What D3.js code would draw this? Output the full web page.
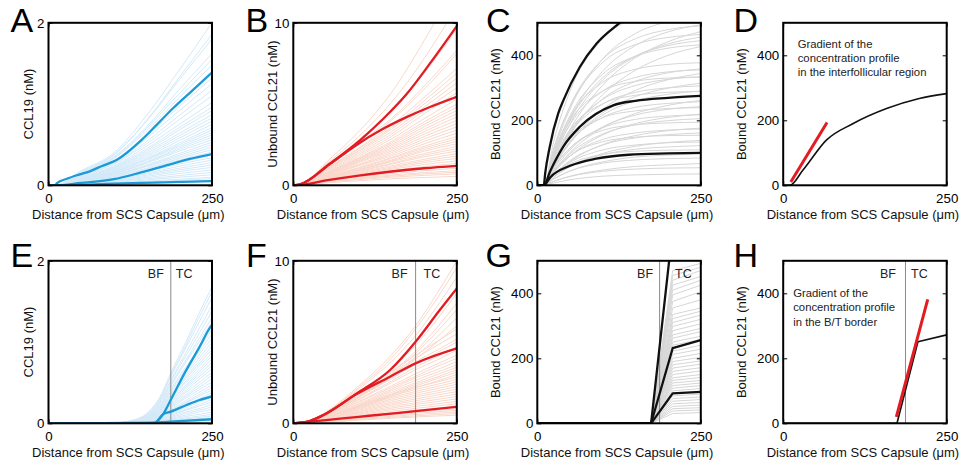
<!DOCTYPE html>
<html><head><meta charset="utf-8">
<script src="https://cdn.jsdelivr.net/npm/d3@7"></script>
<style>
html,body{margin:0;padding:0;background:#fff;}
svg{display:block;}
</style></head><body>
<svg id="chart" width="961" height="464"></svg>
<script>
// ================= DATA =================
const xDomain = [0, 250];
const xTickValues = [0, 250];
const xTitle = "Distance from SCS Capsule (\u03bcm)";
const panelLetters = ["A", "B", "C", "D", "E", "F", "G", "H"];
const yTitles = ["CCL19 (nM)", "Unbound CCL21 (nM)", "Bound CCL21 (nM)", "Bound CCL21 (nM)",
                 "CCL19 (nM)", "Unbound CCL21 (nM)", "Bound CCL21 (nM)", "Bound CCL21 (nM)"];
const yMaxes = [2, 10, 500, 500, 2, 10, 500, 500];
const yTicksCCL19 = [0, 2];
const yTicksUnbound = [0, 10];
const yTicksBound = [0, 200, 400];
const regionLabels = ["BF", "TC"];
const borderX = 187;
const noteD = ["Gradient of the", "concentration profile", "in the interfollicular region"];
const noteH = ["Gradient of the", "concentration profile", "in the B/T border"];

// ---- Panel A (CCL19, top row) ----
const aGridX = [0, 10, 50, 100, 150, 200, 250];
const aLight = [
 [0,0,0.18,0.40,0.86,1.42,2.00],[0,0,0.17,0.38,0.80,1.33,1.86],[0,0,0.16,0.37,0.79,1.30,1.80],
 [0,0,0.15,0.35,0.72,1.18,1.62],[0,0,0.15,0.34,0.70,1.13,1.55],[0,0,0.14,0.33,0.67,1.08,1.48],
 [0,0,0.13,0.30,0.61,0.97,1.32],[0,0,0.12,0.28,0.58,0.92,1.25],[0,0,0.12,0.27,0.54,0.86,1.17],
 [0,0,0.11,0.26,0.51,0.81,1.10],[0,0,0.10,0.24,0.48,0.75,1.02],[0,0,0.10,0.23,0.45,0.71,0.96],
 [0,0,0.09,0.22,0.43,0.68,0.92],[0,0,0.09,0.21,0.41,0.64,0.87],[0,0,0.085,0.20,0.39,0.61,0.83],
 [0,0,0.08,0.19,0.37,0.58,0.79],[0,0,0.08,0.18,0.35,0.55,0.75],[0,0,0.075,0.17,0.33,0.52,0.71],
 [0,0,0.07,0.165,0.32,0.50,0.68],[0,0,0.07,0.16,0.31,0.48,0.65],[0,0,0.065,0.15,0.29,0.46,0.62],
 [0,0,0.06,0.145,0.28,0.44,0.59],[0,0,0.06,0.14,0.27,0.42,0.56],[0,0,0.055,0.13,0.25,0.39,0.53],
 [0,0,0.05,0.125,0.24,0.37,0.50],[0,0,0.05,0.12,0.23,0.35,0.47],[0,0,0.045,0.11,0.21,0.33,0.44],
 [0,0,0.045,0.105,0.20,0.31,0.41],[0,0,0.04,0.095,0.18,0.28,0.37],[0,0,0.035,0.09,0.17,0.26,0.34],
 [0,0,0.035,0.08,0.15,0.235,0.31],[0,0,0.03,0.075,0.14,0.21,0.28],[0,0,0.03,0.065,0.125,0.19,0.25],
 [0,0,0.025,0.06,0.11,0.17,0.22],[0,0,0.02,0.05,0.095,0.145,0.19],[0,0,0.02,0.045,0.08,0.12,0.16],
 [0,0,0.015,0.035,0.065,0.10,0.13],[0,0,0.012,0.03,0.05,0.075,0.10],[0,0,0.01,0.022,0.04,0.06,0.08],
 [0,0,0.006,0.015,0.025,0.038,0.05]
];
const aHighX = [0, 10, 13, 28, 48, 64, 81, 104, 142, 165, 190, 219, 250];
const aHighY = [0, 0, 0.028, 0.08, 0.135, 0.175, 0.235, 0.31, 0.555, 0.74, 0.945, 1.16, 1.39];
const aMidX = [0, 10, 50, 100, 140, 180, 216, 250];
const aMidY = [0, 0, 0.03, 0.075, 0.155, 0.245, 0.325, 0.385];
const aLowX = [0, 10, 100, 175, 250];
const aLowY = [0, 0, 0.02, 0.037, 0.052];

// ---- Panel B (unbound CCL21, top row) ----
const bGridX = [0, 10, 50, 100, 150, 200, 250];
const bLight = [
 [0,0,1.4,3.3,5.7,8.9,12.5],[0,0,1.3,3.0,5.1,7.8,11.0],[0,0,1.2,2.8,4.6,6.9,9.6],[0,0,1.1,2.6,4.1,6.1,8.3],
 [0,0,1.1,2.5,4.0,5.9,8.1],[0,0,1.0,2.3,3.7,5.4,7.2],[0,0,1.0,2.25,3.55,5.2,6.9],[0,0,0.95,2.15,3.45,5.0,6.6],
 [0,0,0.95,2.1,3.3,4.8,6.3],[0,0,0.9,2.0,3.15,4.6,6.0],[0,0,0.85,1.9,3.0,4.4,5.7],[0,0,0.8,1.8,2.85,4.1,5.3],
 [0,0,0.75,1.7,2.7,3.9,5.0],[0,0,0.75,1.65,2.6,3.75,4.8],[0,0,0.7,1.6,2.5,3.6,4.6],[0,0,0.7,1.55,2.4,3.45,4.4],
 [0,0,0.65,1.5,2.3,3.3,4.2],[0,0,0.65,1.45,2.2,3.15,4.0],[0,0,0.6,1.4,2.1,3.0,3.8],[0,0,0.6,1.3,2.0,2.85,3.6],
 [0,0,0.55,1.25,1.9,2.7,3.4],[0,0,0.55,1.2,1.8,2.55,3.2],[0,0,0.5,1.1,1.7,2.4,3.0],[0,0,0.5,1.05,1.65,2.3,2.85],
 [0,0,0.5,1.0,1.55,2.2,2.7],[0,0,0.45,0.95,1.5,2.1,2.55],[0,0,0.45,0.95,1.45,1.95,2.4],[0,0,0.42,0.9,1.35,1.85,2.25],
 [0,0,0.4,0.85,1.3,1.75,2.1],[0,0,0.38,0.8,1.2,1.6,1.95],[0,0,0.36,0.75,1.12,1.5,1.8],[0,0,0.34,0.7,1.05,1.4,1.65],
 [0,0,0.32,0.65,0.98,1.28,1.5],[0,0,0.3,0.6,0.9,1.15,1.35],[0,0,0.28,0.55,0.8,1.02,1.2],[0,0,0.25,0.5,0.72,0.9,1.05],
 [0,0,0.22,0.44,0.63,0.78,0.9],[0,0,0.2,0.4,0.57,0.7,0.8],[0,0,0.18,0.35,0.5,0.61,0.7],[0,0,0.15,0.28,0.4,0.48,0.55]
];
const bHighX = [0, 10, 56, 102, 138, 174, 209, 250];
const bHighY = [0, 0.05, 1.34, 2.77, 4.11, 5.65, 7.5, 9.8];
const bMidX = [0, 10, 56, 92, 138, 174, 209, 250];
const bMidY = [0, 0.05, 1.3, 2.36, 3.49, 4.21, 4.82, 5.45];
const bLowX = [0, 10, 50, 100, 150, 200, 250];
const bLowY = [0, 0.02, 0.3, 0.6, 0.85, 1.05, 1.2];

// ---- Panel C (bound CCL21, top row) ----
const cGridX = [0, 10, 25, 50, 100, 150, 200, 250];
const cLight = [
 [0,0,134,290,451,516,543,553],[0,0,103,235,389,467,504,523],[0,0,89,204,351,430,472,494],
 [0,0,110,243,388,451,479,491],[0,0,72,172,308,392,442,473],[0,0,113,243,378,433,455,464],
 [0,0,82,189,324,396,435,456],[0,0,87,200,331,398,430,445],[0,0,65,155,279,354,400,427],
 [0,0,97,214,342,397,422,432],[0,0,98,209,317,357,372,377],[0,0,70,161,266,320,346,358],
 [0,0,86,186,290,332,349,355],[0,0,57,133,234,292,325,344],[0,0,75,166,264,307,326,334],
 [0,0,95,197,290,320,330,333],[0,0,56,130,223,273,299,314],[0,0,74,160,250,286,300,306],
 [0,0,57,131,216,260,280,290],[0,0,82,171,251,277,286,289],[0,0,43,101,177,221,246,261],
 [0,0,62,134,209,240,252,257],[0,0,48,109,180,216,234,242],[0,0,68,141,208,229,236,239],
 [0,0,39,90,155,190,209,219],[0,0,53,114,177,203,213,217],[0,0,43,97,158,186,199,205],
 [0,0,55,115,169,186,192,194],[0,0,32,73,125,153,168,176],[0,0,42,90,141,161,170,173],
 [0,0,34,76,124,146,156,161],[0,0,44,91,134,148,153,154],[0,0,25,57,98,120,132,138],
 [0,0,32,70,109,124,131,133],[0,0,26,58,94,111,118,122],[0,0,31,65,95,105,108,109],
 [0,0,19,44,72,87,93,97],[0,0,20,44,68,78,82,84],[0,0,12,28,47,58,63,67],
 [0,0,12,27,43,50,53,54],[0,0,7,17,28,32,34,35]
];
const cHighX = [0, 10, 12, 19, 32, 40, 65, 91, 126, 150, 200, 250];
const cHighY = [0, 0, 36, 118, 221, 262, 364, 437, 500, 540, 575, 590];
const cMidX = [0, 10, 20, 40, 65, 116, 150, 200, 250];
const cMidY = [0, 0, 45, 120, 180, 246, 260, 269, 275];
const cLowX = [0, 10, 20, 50, 90, 140, 200, 250];
const cLowY = [0, 0, 25, 60, 82, 94, 98, 100];

// ---- Panel D ----
const dCurveX = [0, 10, 30, 66, 107, 158, 208, 250];
const dCurveY = [0, 0, 46, 139, 190, 236, 267, 282];
const dSlopeX = [11.6, 67];
const dSlopeY = [10, 193];

// ---- Panel E (CCL19, bottom row) ----
const eGridX = [0, 100, 130, 150, 170, 187, 210, 230, 250];
const eLight = [
 [0,0.005,0.04,0.12,0.32,0.62,1.00,1.35,1.68],[0,0.005,0.04,0.11,0.30,0.59,0.96,1.30,1.62],
 [0,0.005,0.035,0.11,0.29,0.57,0.93,1.24,1.55],[0,0.004,0.035,0.10,0.27,0.53,0.87,1.16,1.45],
 [0,0.004,0.03,0.095,0.26,0.51,0.83,1.10,1.38],[0,0.004,0.03,0.09,0.25,0.48,0.78,1.04,1.30],
 [0,0.004,0.03,0.09,0.24,0.46,0.75,1.0,1.25],[0,0.003,0.028,0.08,0.22,0.43,0.69,0.92,1.15],
 [0,0.003,0.026,0.08,0.21,0.41,0.66,0.88,1.10],[0,0.003,0.025,0.075,0.2,0.39,0.63,0.84,1.05],
 [0,0.003,0.024,0.07,0.19,0.37,0.60,0.80,1.00],[0,0.003,0.023,0.067,0.18,0.35,0.57,0.76,0.95],
 [0,0.003,0.022,0.064,0.17,0.34,0.55,0.73,0.91],[0,0.003,0.021,0.061,0.165,0.32,0.52,0.70,0.87],
 [0,0.002,0.02,0.058,0.16,0.31,0.50,0.66,0.83],[0,0.002,0.019,0.055,0.15,0.29,0.47,0.63,0.79],
 [0,0.002,0.018,0.053,0.14,0.28,0.45,0.60,0.75],[0,0.002,0.017,0.05,0.135,0.26,0.43,0.57,0.71],
 [0,0.002,0.016,0.047,0.13,0.25,0.40,0.54,0.67],[0,0.002,0.015,0.044,0.12,0.23,0.38,0.50,0.63],
 [0,0.002,0.014,0.041,0.11,0.22,0.35,0.47,0.59],[0,0.002,0.013,0.039,0.105,0.2,0.33,0.44,0.55],
 [0,0.002,0.012,0.036,0.097,0.19,0.31,0.41,0.51],[0,0.001,0.011,0.033,0.089,0.17,0.28,0.38,0.47],
 [0,0.001,0.011,0.031,0.084,0.16,0.26,0.35,0.44],[0,0.001,0.01,0.029,0.078,0.15,0.25,0.33,0.41],
 [0,0.001,0.009,0.027,0.072,0.14,0.23,0.30,0.38],[0,0.001,0.008,0.025,0.067,0.13,0.21,0.28,0.35],
 [0,0.001,0.008,0.022,0.061,0.12,0.19,0.26,0.32],[0,0.001,0.007,0.02,0.055,0.11,0.17,0.23,0.29],
 [0,0.001,0.006,0.018,0.049,0.096,0.16,0.21,0.26],[0,0.001,0.006,0.016,0.044,0.085,0.14,0.18,0.23],
 [0,0.001,0.005,0.014,0.038,0.074,0.12,0.16,0.20],[0,0,0.004,0.012,0.032,0.063,0.10,0.14,0.17],
 [0,0,0.003,0.01,0.027,0.052,0.084,0.11,0.14],[0,0,0.003,0.008,0.021,0.041,0.066,0.088,0.11],
 [0,0,0.002,0.006,0.017,0.033,0.054,0.072,0.09],[0,0,0.002,0.005,0.013,0.026,0.042,0.056,0.07],
 [0,0,0.001,0.004,0.01,0.019,0.03,0.04,0.05],[0,0,0.001,0.002,0.006,0.011,0.018,0.024,0.03]
];
const eHighX = [0, 162, 175, 187, 211, 231, 248, 250];
const eHighY = [0, 0.005, 0.11, 0.29, 0.66, 0.94, 1.19, 1.21];
const eMidX = [0, 162, 175, 187, 211, 231, 250];
const eMidY = [0, 0.005, 0.11, 0.143, 0.225, 0.287, 0.33];
const eLowX = [0, 150, 187, 250];
const eLowY = [0, 0.002, 0.02, 0.05];

// ---- Panel F (unbound CCL21, bottom row) ----
const fGridX = [0, 25, 50, 100, 150, 187, 220, 250];
const fLight = [
 [0,0.17,0.7,2.3,4.2,6.0,8.0,10.0],[0,0.16,0.67,2.2,4.0,5.8,7.7,9.6],[0,0.15,0.63,2.1,3.8,5.4,7.2,9.0],
 [0,0.14,0.56,1.85,3.35,4.8,6.4,8.0],[0,0.13,0.52,1.7,3.1,4.45,5.9,7.4],[0,0.12,0.5,1.65,3.0,4.3,5.65,7.0],
 [0,0.12,0.5,1.6,2.9,4.1,5.3,6.5],[0,0.12,0.5,1.6,2.85,3.95,5.0,6.0],[0,0.14,0.58,1.85,3.2,4.2,5.05,5.8],
 [0,0.14,0.55,1.75,3.0,4.0,4.8,5.5],[0,0.13,0.52,1.65,2.85,3.8,4.5,5.2],[0,0.12,0.5,1.6,2.75,3.65,4.35,5.0],
 [0,0.12,0.47,1.5,2.6,3.45,4.1,4.7],[0,0.11,0.45,1.45,2.5,3.3,3.9,4.5],[0,0.1,0.42,1.35,2.3,3.05,3.65,4.2],
 [0,0.1,0.4,1.3,2.2,2.9,3.5,4.0],[0,0.1,0.38,1.2,2.1,2.8,3.3,3.8],[0,0.09,0.36,1.15,2.0,2.65,3.15,3.6],
 [0,0.09,0.35,1.1,1.9,2.5,3.0,3.45],[0,0.08,0.33,1.05,1.8,2.4,2.85,3.3],[0,0.08,0.32,1.0,1.75,2.3,2.75,3.15],
 [0,0.08,0.3,0.96,1.65,2.2,2.6,3.0],[0,0.11,0.4,1.08,1.77,2.2,2.54,2.85],[0,0.11,0.38,1.03,1.67,2.08,2.4,2.7],
 [0,0.1,0.36,0.97,1.58,1.96,2.27,2.55],[0,0.1,0.34,0.91,1.49,1.85,2.14,2.4],[0,0.09,0.32,0.86,1.4,1.73,2.0,2.25],
 [0,0.08,0.29,0.8,1.3,1.62,1.87,2.1],[0,0.08,0.27,0.74,1.21,1.5,1.74,1.95],[0,0.07,0.25,0.68,1.12,1.39,1.6,1.8],
 [0,0.07,0.23,0.63,1.02,1.27,1.47,1.65],[0,0.06,0.21,0.57,0.93,1.16,1.34,1.5],[0,0.05,0.19,0.51,0.84,1.04,1.2,1.35],
 [0,0.05,0.17,0.46,0.74,0.92,1.07,1.2],[0,0.04,0.15,0.4,0.65,0.81,0.93,1.05],[0,0.04,0.13,0.34,0.56,0.69,0.8,0.9],
 [0,0.03,0.11,0.3,0.5,0.62,0.71,0.8],[0,0.03,0.1,0.27,0.43,0.54,0.62,0.7],[0,0.02,0.08,0.23,0.37,0.46,0.53,0.6],
 [0,0.02,0.07,0.19,0.31,0.39,0.45,0.5]
];
const fHighX = [0, 25, 46, 97, 148, 187, 224, 250];
const fHighY = [0, 0.14, 0.51, 1.84, 3.28, 5.02, 6.97, 8.3];
const fMidX = [0, 25, 46, 97, 148, 187, 250];
const fMidY = [0, 0.14, 0.5, 1.8, 2.87, 3.69, 4.61];
const fLowX = [0, 50, 100, 150, 187, 250];
const fLowY = [0, 0.2, 0.4, 0.6, 0.75, 1.02];

// ---- Panel G (bound CCL21, bottom row) ----
const gGridX = [0, 174, 207, 250];
const gLight = [
 [0,0,470,492],[0,0,455,480],[0,0,440,470],[0,0,425,452],[0,0,410,440],[0,0,395,425],[0,0,375,405],
 [0,0,355,380],[0,0,335,355],[0,0,322,345],[0,0,310,333],[0,0,298,320],[0,0,285,306],[0,0,272,292],
 [0,0,262,282],[0,0,250,268],[0,0,240,258],[0,0,222,240],[0,0,212,228],[0,0,200,215],[0,0,190,203],
 [0,0,180,192],[0,0,170,182],[0,0,160,171],[0,0,150,161],[0,0,140,150],[0,0,132,141],[0,0,124,132],
 [0,0,116,124],[0,0,108,116],[0,0,100,107],[0,0,92,98],[0,0,84,90],[0,0,76,81],[0,0,68,73],
 [0,0,60,64],[0,0,52,56],[0,0,45,48],[0,0,38,41],[0,0,30,33]
];
const gHighX = [0, 174, 207, 250];
const gHighY = [0, 0, 598, 620];
const gMidX = [0, 174, 207, 250];
const gMidY = [0, 0, 231, 256];
const gLowX = [0, 174, 207, 250];
const gLowY = [0, 0, 92, 97];

// ---- Panel H ----
const hCurveX = [0, 174, 206, 250];
const hCurveY = [0, 0, 251, 272];
const hSlopeX = [173, 221];
const hSlopeY = [20, 381];

// ================= STYLE / LAYOUT =================
const FONT = '"Liberation Sans", Arial, Helvetica, sans-serif';
const plotW = 163.5, plotH = 162.5;
const colX = [48.5, 293.3, 537.3, 783.2];
const rowY = [22.8, 260.8];
const lightBlue = "#d3e9f8", thickBlue = "#1b9ad7";
const lightRed = "#f9d8cb", thickRed = "#e31b23";
const lightGrey = "#d6d6d6", thickBlack = "#111111";
const slopeRed = "#e31b23";

const svg = d3.select("#chart");
const pts = (xs, ys) => xs.map((v, i) => [v, ys[i]]);

const panels = [
 {i:0, col:0,row:0, yTicks:yTicksCCL19, gridX:aGridX, light:aLight, lc:lightBlue, tc:thickBlue,
  thick:[[aHighX,aHighY],[aMidX,aMidY],[aLowX,aLowY]], curve:d3.curveMonotoneX, yOff:16},
 {i:1, col:1,row:0, yTicks:yTicksUnbound, gridX:bGridX, light:bLight, lc:lightRed, tc:thickRed,
  thick:[[bHighX,bHighY],[bMidX,bMidY],[bLowX,bLowY]], curve:d3.curveMonotoneX, yOff:16},
 {i:2, col:2,row:0, yTicks:yTicksBound, gridX:cGridX, light:cLight, lc:lightGrey, tc:thickBlack,
  thick:[[cHighX,cHighY],[cMidX,cMidY],[cLowX,cLowY]], curve:d3.curveMonotoneX, yOff:37},
 {i:3, col:3,row:0, yTicks:yTicksBound, light:[], tc:thickBlack, thickW:1.6,
  thick:[[dCurveX,dCurveY]], slope:[dSlopeX,dSlopeY], curve:d3.curveMonotoneX, yOff:37,
  note:noteD, noteDx:14.5, noteDy:25},
 {i:4, col:0,row:1, yTicks:yTicksCCL19, gridX:eGridX, light:eLight, lc:lightBlue, tc:thickBlue,
  thick:[[eHighX,eHighY],[eMidX,eMidY],[eLowX,eLowY]], curve:d3.curveMonotoneX, yOff:16,
  border:true, bfDx:-23, tcDx:5},
 {i:5, col:1,row:1, yTicks:yTicksUnbound, gridX:fGridX, light:fLight, lc:lightRed, tc:thickRed,
  thick:[[fHighX,fHighY],[fMidX,fMidY],[fLowX,fLowY]], curve:d3.curveMonotoneX, yOff:16,
  border:true, bfDx:-24, tcDx:8},
 {i:6, col:2,row:1, yTicks:yTicksBound, gridX:gGridX, light:gLight, lc:lightGrey, tc:thickBlack,
  thick:[[gHighX,gHighY],[gMidX,gMidY],[gLowX,gLowY]], curve:d3.curveLinear, yOff:37,
  border:true, bfDx:-22.5, tcDx:15.5},
 {i:7, col:3,row:1, yTicks:yTicksBound, light:[], tc:thickBlack, thickW:1.6,
  thick:[[hCurveX,hCurveY]], slope:[hSlopeX,hSlopeY], curve:d3.curveLinear, yOff:37,
  border:true, bfDx:-25.5, tcDx:5.5, note:noteH, noteDx:10, noteDy:36.5}
];

panels.forEach(p => {
  const left = colX[p.col], top = rowY[p.row];
  const g = svg.append("g").attr("transform", `translate(${left},${top})`);
  const x = d3.scaleLinear().domain(xDomain).range([0, plotW]);
  const y = d3.scaleLinear().domain([0, yMaxes[p.i]]).range([plotH, 0]);
  const cid = "clip" + p.i;
  g.append("clipPath").attr("id", cid).append("rect")
    .attr("x", 0).attr("y", 0).attr("width", plotW).attr("height", plotH);
  const plot = g.append("g").attr("clip-path", `url(#${cid})`);
  const line = d3.line().x(d => x(d[0])).y(d => y(d[1])).curve(p.curve);

  p.light.forEach(vals => {
    plot.append("path").datum(pts(p.gridX, vals)).attr("d", line)
      .attr("fill", "none").attr("stroke", p.lc).attr("stroke-width", 1);
  });
  if (p.border) {
    plot.append("line").attr("x1", x(borderX)).attr("x2", x(borderX))
      .attr("y1", 0).attr("y2", plotH).attr("stroke", "#8a8a8a").attr("stroke-width", 1);
  }
  p.thick.forEach(t => {
    plot.append("path").datum(pts(t[0], t[1])).attr("d", line)
      .attr("fill", "none").attr("stroke", p.tc).attr("stroke-width", p.thickW || 2.3)
      .attr("stroke-linejoin", "round");
  });
  if (p.slope) {
    plot.append("path").datum(pts(p.slope[0], p.slope[1]))
      .attr("d", d3.line().x(d => x(d[0])).y(d => y(d[1])))
      .attr("fill", "none").attr("stroke", slopeRed).attr("stroke-width", 3);
  }

  // axes with inward ticks on all four sides
  const fmt = d => String(d);
  const yl = g.append("g").call(d3.axisLeft(y).tickValues(p.yTicks).tickFormat(fmt).tickSizeInner(-4).tickSizeOuter(0).tickPadding(4));
  const yr = g.append("g").attr("transform", `translate(${plotW},0)`)
    .call(d3.axisRight(y).tickValues(p.yTicks).tickSizeInner(-4).tickSizeOuter(0).tickFormat(""));
  const xb = g.append("g").attr("transform", `translate(0,${plotH})`)
    .call(d3.axisBottom(x).tickValues(xTickValues).tickFormat(fmt).tickSizeInner(-4).tickSizeOuter(0).tickPadding(8));
  const xt = g.append("g").call(d3.axisTop(x).tickValues(xTickValues).tickSizeInner(-4).tickSizeOuter(0).tickFormat(""));
  [yl, yr, xb, xt].forEach(a => {
    a.select(".domain").remove();
    a.attr("font-family", FONT).attr("font-size", 13.3);
    a.selectAll("line").attr("stroke", "#000").attr("stroke-width", 1);
    a.selectAll("text").attr("fill", "#000");
  });
  g.append("rect").attr("width", plotW).attr("height", plotH)
    .attr("fill", "none").attr("stroke", "#000").attr("stroke-width", 2);

  // titles
  g.append("text").attr("x", plotW / 2 - 2).attr("y", plotH + 33.5)
    .attr("text-anchor", "middle").attr("font-family", FONT).attr("font-size", 13)
    .attr("fill", "#111").text(xTitle);
  g.append("text").attr("transform", `translate(${-p.yOff},${plotH / 2}) rotate(-90)`)
    .attr("text-anchor", "middle").attr("font-family", FONT).attr("font-size", 13)
    .attr("fill", "#111").text(yTitles[p.i]);

  if (p.border) {
    g.append("text").attr("x", x(borderX) + p.bfDx).attr("y", 17.7)
      .attr("font-family", FONT).attr("font-size", 12.5).attr("fill", "#222").text(regionLabels[0]);
    g.append("text").attr("x", x(borderX) + p.tcDx).attr("y", 17.7)
      .attr("font-family", FONT).attr("font-size", 12.5).attr("fill", "#222").text(regionLabels[1]);
  }
  if (p.note) {
    p.note.forEach((t, k) => {
      g.append("text").attr("x", p.noteDx).attr("y", p.noteDy + k * 14.2)
        .attr("font-family", FONT).attr("font-size", 11.3).attr("fill", "#222").text(t);
    });
  }
});

// panel letters
const letterPos = [[10.5, 32], [245.5, 32], [486, 32], [733.5, 32],
                   [10.5, 267], [246, 267], [485.5, 267], [733.5, 267]];
panelLetters.forEach((L, k) => {
  svg.append("text").attr("x", letterPos[k][0]).attr("y", letterPos[k][1])
    .attr("font-family", FONT).attr("font-size", 34).attr("fill", "#000").text(L);
});
</script>
</body></html>
